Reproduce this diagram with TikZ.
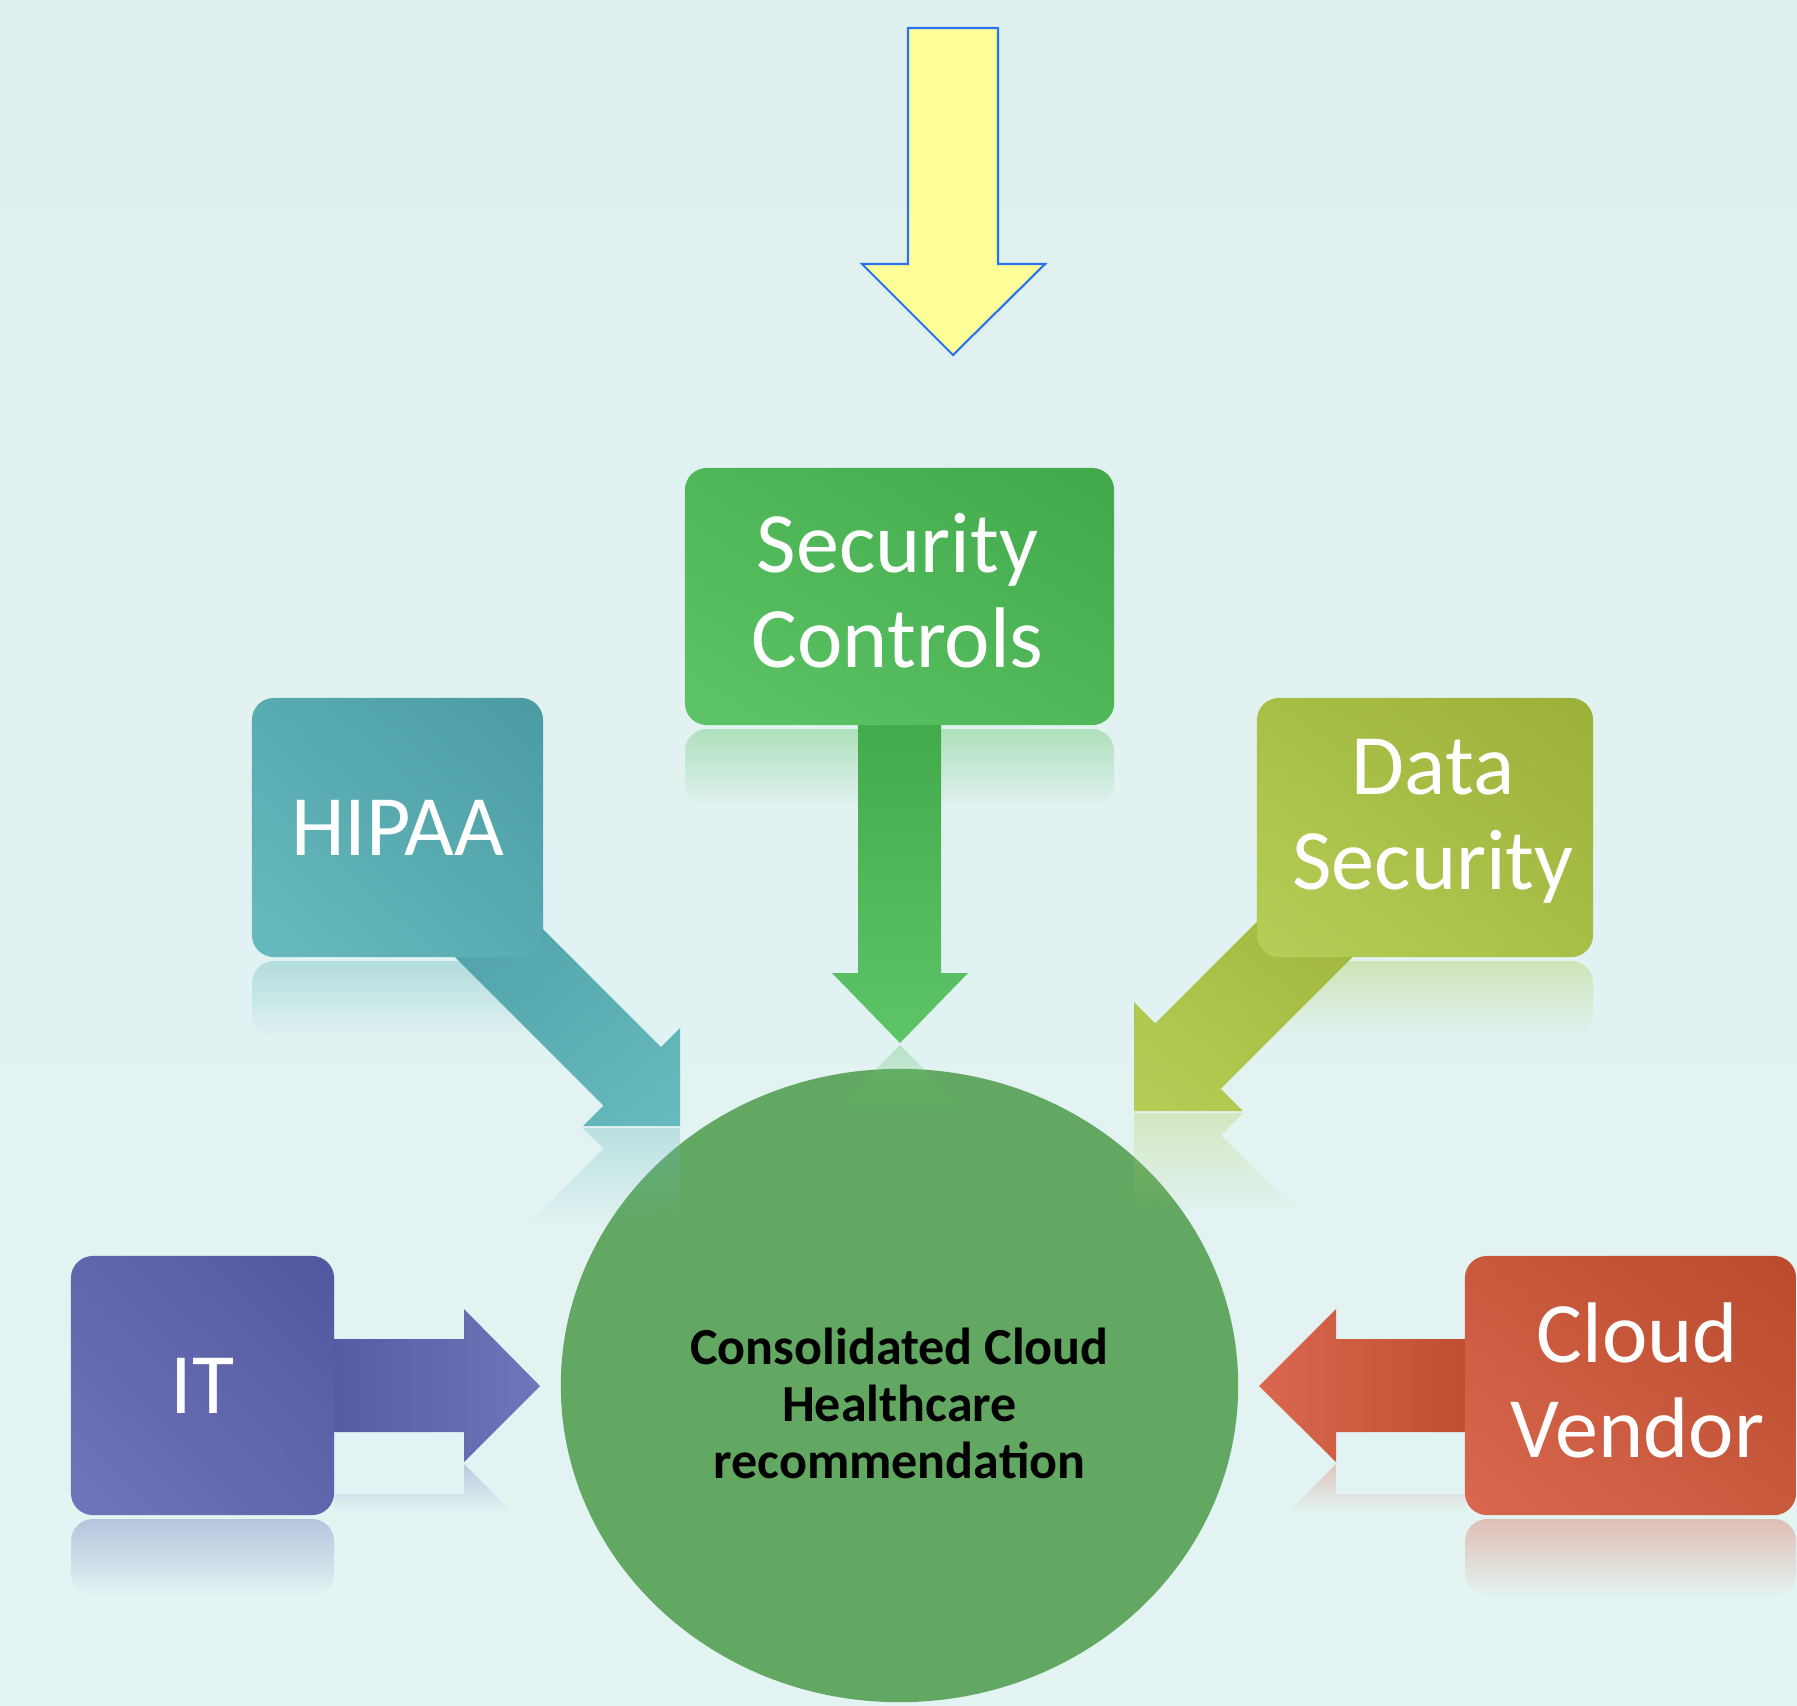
\documentclass[tikz,border=0pt]{standalone}
\usepackage{fontspec}
\setmainfont{Carlito}
\usetikzlibrary{shapes.geometric,fadings,shadings}
\definecolor{bgtop}{HTML}{DFF0F0}
\definecolor{bgbot}{HTML}{E3F4F3}
\definecolor{yel}{HTML}{FFFF99}
\definecolor{yelline}{HTML}{2A72F0}
\definecolor{hubc}{HTML}{62A863}
\definecolor{scA}{HTML}{5EC468}\definecolor{scB}{HTML}{41A94A}\definecolor{scM}{HTML}{4FB758}
\definecolor{hpA}{HTML}{67BABD}\definecolor{hpB}{HTML}{4A9CA2}\definecolor{hpM}{HTML}{58ABB0}
\definecolor{dsA}{HTML}{B6CE57}\definecolor{dsB}{HTML}{9BB038}\definecolor{dsM}{HTML}{A8BF47}
\definecolor{itA}{HTML}{7175B9}\definecolor{itB}{HTML}{5257A0}\definecolor{itM}{HTML}{6166AC}
\definecolor{cvA}{HTML}{D9684F}\definecolor{cvB}{HTML}{BA4A2B}\definecolor{cvM}{HTML}{C9593D}
\begin{document}
\begin{tikzpicture}[x=0.01cm,y=-0.01cm,
  boxsty/.style={rounded corners=0.22cm, inner sep=0pt},
  lblsty/.style={inner sep=0pt, text=white, align=center,
    font=\fontsize{24.47pt}{27.03pt}\selectfont},
  refl/.style={fill opacity=0.38, path fading=south},
  arrrefl/.style={fill opacity=0.32, path fading=south}]
\useasboundingbox (0,0) rectangle (1797,1705);
\shade[top color=bgtop, bottom color=bgbot] (0,0) rectangle (1797,1705);

% central ellipse
\node[ellipse, fill=hubc, minimum width=6.77cm, minimum height=6.33cm, inner sep=0pt] (hub) at (899.5,1385.5) {};

% box reflections
\fill[refl, fill=scA, rounded corners=0.22cm] (685,729) rectangle (1114,806);
\fill[refl, fill=hpA, rounded corners=0.22cm] (252,961) rectangle (543,1038);
\fill[refl, fill=dsA, rounded corners=0.22cm] (1257,961) rectangle (1593,1038);
\fill[refl, fill=itA, rounded corners=0.22cm] (71,1519) rectangle (334,1596);
\fill[refl, fill=cvA, rounded corners=0.22cm] (1465,1519) rectangle (1796,1596);

% arrow reflections
\fill[arrrefl, fill=scA] (900,1045) -- (968,1113) -- (941,1113) -- (941,1125) -- (858,1125) -- (858,1113) -- (832,1113) -- cycle;
\fill[arrrefl, fill=hpA] (680,1128) -- (583,1128) -- (603.5,1148.5) -- (524,1228) -- (640,1228) -- (661,1207) -- (680,1226) -- cycle;
\fill[arrrefl, fill=dsA] (1134,1113) -- (1243,1113) -- (1220.75,1135.25) -- (1298.5,1213) -- (1167.5,1213) -- (1155.25,1200.75) -- (1143,1213) -- (1134,1213) -- cycle;
\fill[arrrefl, fill=itA] (464,1464) -- (512,1512) -- (334,1512) -- (334,1494) -- (464,1494) -- cycle;
\fill[arrrefl, fill=cvA] (1336,1464) -- (1288,1512) -- (1465,1512) -- (1465,1494) -- (1336,1494) -- cycle;

% block arrows
\shade[upper left=scB, upper right=scB, lower left=scA, lower right=scA]
  (858,700) -- (941,700) -- (941,973) -- (968,973) -- (900,1043) -- (832,973) -- (858,973) -- cycle;
\shade[upper left=hpB, upper right=hpM, lower left=hpM, lower right=hpA]
  (680,1126) -- (583,1126) -- (603.5,1105.5) -- (378,880) -- (494,880) -- (661,1047) -- (680,1028) -- cycle;
\shade[upper left=dsM, upper right=dsB, lower left=dsA, lower right=dsM]
  (1134,1111) -- (1134,1002) -- (1155.25,1023.25) -- (1298.5,880) -- (1429.5,880) -- (1220.75,1088.75) -- (1243,1111) -- cycle;
\shade[upper left=itB, lower left=itB, upper right=itA, lower right=itA]
  (300,1339) -- (464,1339) -- (464,1309) -- (540,1386) -- (464,1462) -- (464,1432) -- (300,1432) -- cycle;
\shade[upper left=cvA, lower left=cvA, upper right=cvB, lower right=cvB]
  (1500,1339) -- (1336,1339) -- (1336,1309) -- (1259,1386) -- (1336,1462) -- (1336,1432) -- (1500,1432) -- cycle;

% boxes
\node[boxsty, minimum width=4.29cm, minimum height=2.57cm, shade,
  lower left=scA, upper right=scB, upper left=scM, lower right=scM] (sc) at (899.5,596.5) {};
\node[boxsty, minimum width=2.91cm, minimum height=2.59cm, shade,
  lower left=hpA, upper right=hpB, upper left=hpM, lower right=hpM] (hipaa) at (397.5,827.5) {};
\node[boxsty, minimum width=3.36cm, minimum height=2.59cm, shade,
  lower left=dsA, upper right=dsB, upper left=dsM, lower right=dsM] (ds) at (1425,827.5) {};
\node[boxsty, minimum width=2.63cm, minimum height=2.59cm, shade,
  lower left=itA, upper right=itB, upper left=itM, lower right=itM] (it) at (202.5,1385.5) {};
\node[boxsty, minimum width=3.31cm, minimum height=2.59cm, shade,
  lower left=cvA, upper right=cvB, upper left=cvM, lower right=cvM] (cv) at (1630.5,1385.5) {};

% box labels
\node[lblsty, xshift=-0.02cm, yshift=0.06cm] (sclbl) at (sc.center) {Security\\Controls};
\node[lblsty] (hipaalbl) at (hipaa.center) {HIPAA};
\node[lblsty, xshift=0.08cm, yshift=0.06cm] (dslbl) at (ds.center) {Data\\Security};
\node[lblsty] (itlbl) at (it.center) {IT};
\node[lblsty, xshift=0.07cm, yshift=0.05cm] (cvlbl) at (cv.center) {Cloud\\Vendor};

% hub text
\node[font=\bfseries\fontsize{14.8pt}{16.22pt}\selectfont, align=center] (hubtext) at (899.5,1403.5)
  {Consolidated Cloud\\Healthcare\\recommendation};

% yellow arrow
\draw[fill=yel, draw=yelline, line width=0.6pt, line join=miter]
  (908,28) -- (998,28) -- (998,264) -- (1045,264) -- (953,355) -- (862,264) -- (908,264) -- cycle;
\end{tikzpicture}
\end{document}
